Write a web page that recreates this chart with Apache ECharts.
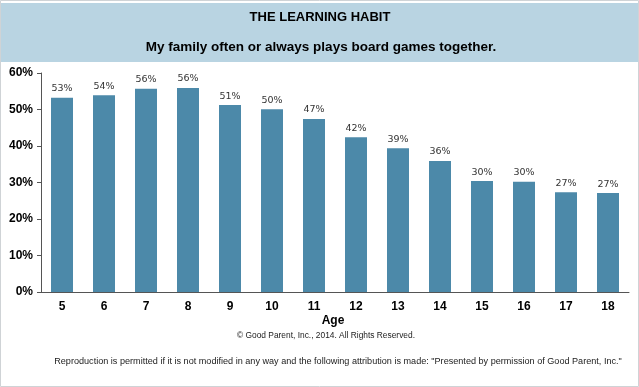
<!DOCTYPE html>
<html>
<head>
<meta charset="utf-8">
<script src="https://cdn.jsdelivr.net/npm/echarts@6/dist/echarts.min.js"></script>
<style>html,body{margin:0;padding:0;background:#fff}#c{width:639px;height:387px}</style>
</head>
<body>
<div id="c"></div>
<script>
const ages = ['5','6','7','8','9','10','11','12','13','14','15','16','17','18'];
const shares = [53.2, 53.9, 55.7, 55.9, 51.2, 50.1, 47.4, 42.4, 39.4, 35.9, 30.4, 30.2, 27.3, 27.1];
const yTicks = [0, 10, 20, 30, 40, 50, 60];
const titleText = 'THE LEARNING HABIT';
const subtitleText = 'My family often or always plays board games together.';
const xName = 'Age';
const copyright = '\u00A9 Good Parent, Inc., 2014. All Rights Reserved.';
const reproduction = 'Reproduction is permitted if it is not modified in any way and the following attribution is made: "Presented by permission of Good Parent, Inc."';

const chart = echarts.init(document.getElementById('c'), null, {renderer: 'canvas'});
const F = 'Arial, "Liberation Sans", sans-serif';
chart.setOption({
  animation: false,
  backgroundColor: '#fff',
  graphic: [
    {type: 'rect', shape: {x: 0.5, y: 0.5, width: 638, height: 386}, style: {fill: 'none', stroke: '#cfd3d6', lineWidth: 1}, z: 0},
    {type: 'rect', shape: {x: 1, y: 3, width: 637, height: 59}, style: {fill: '#b9d4e2'}, z: 0},
    {type: 'text', x: 320, y: 11, style: {text: titleText, font: 'bold 13px ' + F, fill: '#000', align: 'center', verticalAlign: 'top'}, z: 5},
    {type: 'text', x: 321, y: 40, style: {text: subtitleText, font: 'bold 13.5px ' + F, fill: '#000', align: 'center', verticalAlign: 'top'}, z: 5},
    {type: 'text', x: 333, y: 315, style: {text: xName, font: 'bold 12px ' + F, fill: '#000', align: 'center', verticalAlign: 'top'}, z: 5},
    {type: 'text', x: 326, y: 332, style: {text: copyright, font: '8.4px ' + F, fill: '#222', align: 'center', verticalAlign: 'top'}, z: 5},
    {type: 'text', x: 338, y: 357, style: {text: reproduction, font: '9.1px ' + F, fill: '#222', align: 'center', verticalAlign: 'top'}, z: 5}
  ],
  grid: {left: 41, right: 10, top: 73, bottom: 95, containLabel: false},
  xAxis: {
    type: 'category',
    data: ages,
    axisLine: {lineStyle: {color: '#555', width: 1}},
    axisTick: {show: false},
    axisLabel: {color: '#000', fontFamily: F, fontWeight: 'bold', fontSize: 12, margin: 9}
  },
  yAxis: {
    type: 'value',
    min: 0, max: 60, interval: 10,
    splitLine: {show: false},
    axisLine: {show: true, lineStyle: {color: '#555', width: 1}},
    axisTick: {show: true, length: 4, lineStyle: {color: '#555'}},
    axisLabel: {color: '#000', fontFamily: F, fontWeight: 'bold', fontSize: 12, margin: 8,
      formatter: v => yTicks.includes(v) ? v + '%' : ''}
  },
  series: [{
    type: 'bar',
    data: shares,
    barWidth: 22,
    itemStyle: {color: '#4c89a9'},
    label: {show: true, position: 'top', distance: 4, color: '#333', fontFamily: '"DejaVu Sans", sans-serif', fontSize: 9.5,
      formatter: p => Math.round(p.value) + '%'}
  }]
});
</script>
</body>
</html>
